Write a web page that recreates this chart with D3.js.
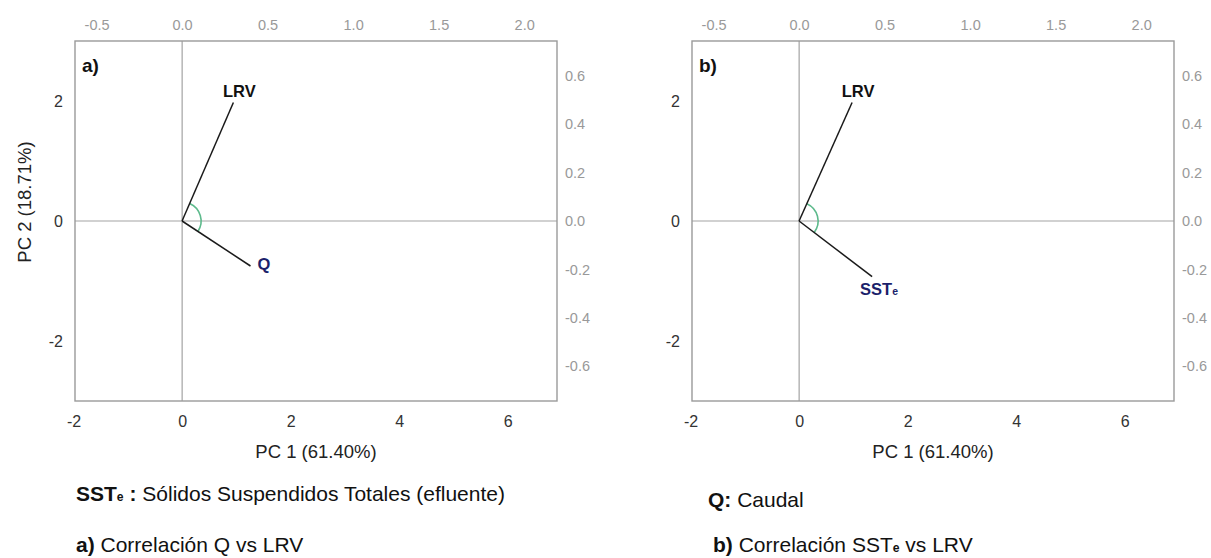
<!DOCTYPE html>
<html>
<head>
<meta charset="utf-8">
<script src="https://cdn.jsdelivr.net/npm/d3@7"></script>
<style>
  html, body { margin: 0; padding: 0; background: #fff; }
  svg { display: block; font-family: "Liberation Sans", Arial, Helvetica, sans-serif; }
</style>
</head>
<body>
<svg id="chart" width="1211" height="558"></svg>
<script>
// ---------- data ----------
const panelNames = ["a)", "b)"];
const pc1Ticks = [-2, 0, 2, 4, 6];            // bottom axis (scores)
const pc2Ticks = [-2, 0, 2];                  // left axis (scores)
const loadTopTicks = [-0.5, 0.0, 0.5, 1.0, 1.5, 2.0];   // top axis (loadings)
const loadRightTicks = [0.6, 0.4, 0.2, 0.0, -0.2, -0.4, -0.6]; // right axis (loadings)
const pc1Label = "PC 1 (61.40%)";
const pc2Label = "PC 2 (18.71%)";

// loading vectors (in top / right axis units)
const varNamesA = ["LRV", "Q"];
const varPC1A = [0.30, 0.40];
const varPC2A = [0.49, -0.186];
const varNamesB = ["LRV", "SST"];
const varPC1B = [0.31, 0.427];
const varPC2B = [0.49, -0.23];

// ---------- layout / style ----------
const W = 482, H = 360;
const panelLeft = [75, 692];
const panelTop = 41;
const labelStyle = {
  "LRV": { dx: 6, dy: -5, anchor: "middle", color: "#111", sub: null },
  "Q":   { dx: 7, dy: 4, anchor: "start", color: "#1c1f6b", sub: null },
  "SST": { dx: -12, dy: 18, anchor: "start", color: "#1c1f6b", sub: "e" }
};
const hy = f => d => f(d).replace("\u2212", "-");

const svg = d3.select("#chart");
svg.append("rect").attr("width", 1211).attr("height", 558).attr("fill", "#fff");

function drawPanel(idx, names, pc1, pc2) {
  const g = svg.append("g").attr("transform", `translate(${panelLeft[idx]},${panelTop})`);

  const x = d3.scaleLinear().domain([-1.975, 6.91]).range([0, W]);
  const y = d3.scaleLinear().domain([-3, 3]).range([H, 0]);
  const xl = d3.scaleLinear().domain([-0.626, 2.192]).range([0, W]);
  const yl = d3.scaleLinear().domain([-0.744, 0.744]).range([H, 0]);

  // zero lines
  g.append("line").attr("x1", x(0)).attr("x2", x(0)).attr("y1", 0).attr("y2", H)
    .attr("stroke", "#a3a3a3").attr("stroke-width", 1.2);
  g.append("line").attr("x1", 0).attr("x2", W).attr("y1", y(0)).attr("y2", y(0))
    .attr("stroke", "#a3a3a3").attr("stroke-width", 1.2);

  // box
  g.append("rect").attr("x", 0).attr("y", 0).attr("width", W).attr("height", H)
    .attr("fill", "none").attr("stroke", "#9a9a9a").attr("stroke-width", 1.4);

  // axes
  const styleAxis = (sel, size, color) => {
    sel.select(".domain").remove();
    sel.selectAll(".tick line").remove();
    sel.selectAll("text").attr("font-size", size).attr("fill", color)
      .attr("font-family", '"Liberation Sans", Arial, sans-serif');
  };
  g.append("g").attr("transform", `translate(0,${H})`)
    .call(d3.axisBottom(x).tickValues(pc1Ticks).tickSize(0).tickPadding(15).tickFormat(hy(d3.format("d"))))
    .call(s => styleAxis(s, 16, "#333"));
  g.append("g")
    .call(d3.axisLeft(y).tickValues(pc2Ticks).tickSize(0).tickPadding(12).tickFormat(hy(d3.format("d"))))
    .call(s => styleAxis(s, 16, "#333"));
  g.append("g")
    .call(d3.axisTop(xl).tickValues(loadTopTicks).tickSize(0).tickPadding(11).tickFormat(hy(d3.format(".1f"))))
    .call(s => styleAxis(s, 14.5, "#999"));
  g.append("g").attr("transform", `translate(${W},0)`)
    .call(d3.axisRight(yl).tickValues(loadRightTicks).tickSize(0).tickPadding(8).tickFormat(hy(d3.format(".1f"))))
    .call(s => styleAxis(s, 14.5, "#999"));

  // axis titles
  g.append("text").attr("x", W / 2).attr("y", H + 57).attr("text-anchor", "middle")
    .attr("font-size", 18.5).attr("fill", "#222").text(pc1Label);
  if (idx === 0) {
    g.append("text").attr("transform", `translate(${31 - panelLeft[idx]},${202 - panelTop}) rotate(-90)`)
      .attr("text-anchor", "middle").attr("font-size", 18.5).attr("fill", "#222").text(pc2Label);
  }

  // panel label
  g.append("text").attr("x", 7).attr("y", 31).attr("font-size", 19).attr("font-weight", "bold")
    .attr("fill", "#111").text(panelNames[idx]);

  // loading vectors
  const vecs = names.map((n, i) => ({ name: n, px: xl(pc1[i]), py: yl(pc2[i]) }));
  const ox = xl(0), oy = yl(0);

  // green angle arc between the two vectors
  const a0 = Math.atan2(vecs[0].py - oy, vecs[0].px - ox);
  const a1 = Math.atan2(vecs[1].py - oy, vecs[1].px - ox);
  const r = 19;
  const p = d3.path();
  p.moveTo(ox + r * Math.cos(a0), oy + r * Math.sin(a0));
  p.arc(ox, oy, r, a0, a1, false);
  g.append("path").attr("d", p.toString()).attr("fill", "none")
    .attr("stroke", "#5dba8c").attr("stroke-width", 1.6);

  g.selectAll("line.vec").data(vecs).join("line").attr("class", "vec")
    .attr("x1", ox).attr("y1", oy).attr("x2", d => d.px).attr("y2", d => d.py)
    .attr("stroke", "#1a1a1a").attr("stroke-width", 1.5);

  vecs.forEach(d => {
    const st = labelStyle[d.name];
    const t = g.append("text").attr("x", d.px + st.dx).attr("y", d.py + st.dy)
      .attr("text-anchor", st.anchor).attr("font-size", 16.5).attr("font-weight", "bold")
      .attr("fill", st.color);
    t.append("tspan").text(d.name);
    if (st.sub) t.append("tspan").attr("font-size", 10.5).text(st.sub);
  });
}

drawPanel(0, varNamesA, varPC1A, varPC2A);
drawPanel(1, varNamesB, varPC1B, varPC2B);

// ---------- legend notes ----------
const fs = 21;
function note(x, yb, parts) {
  const t = svg.append("text").attr("x", x).attr("y", yb).attr("font-size", fs).attr("fill", "#111");
  parts.forEach(pt => {
    const s = t.append("tspan").text(pt.t);
    if (pt.b) s.attr("font-weight", "bold");
    if (pt.small) s.attr("font-size", fs * 0.58);
  });
}
note(76, 501, [{ t: "SST", b: true }, { t: "e", b: true, small: true }, { t: " : ", b: true }, { t: "Sólidos Suspendidos Totales (efluente)" }]);
note(76, 552, [{ t: "a)", b: true }, { t: " Correlación Q vs LRV" }]);
note(708, 507, [{ t: "Q:", b: true }, { t: " Caudal" }]);
note(713, 552, [{ t: "b)", b: true }, { t: " Correlación SST" }, { t: "e", b: true, small: true }, { t: " vs LRV" }]);
</script>
</body>
</html>
